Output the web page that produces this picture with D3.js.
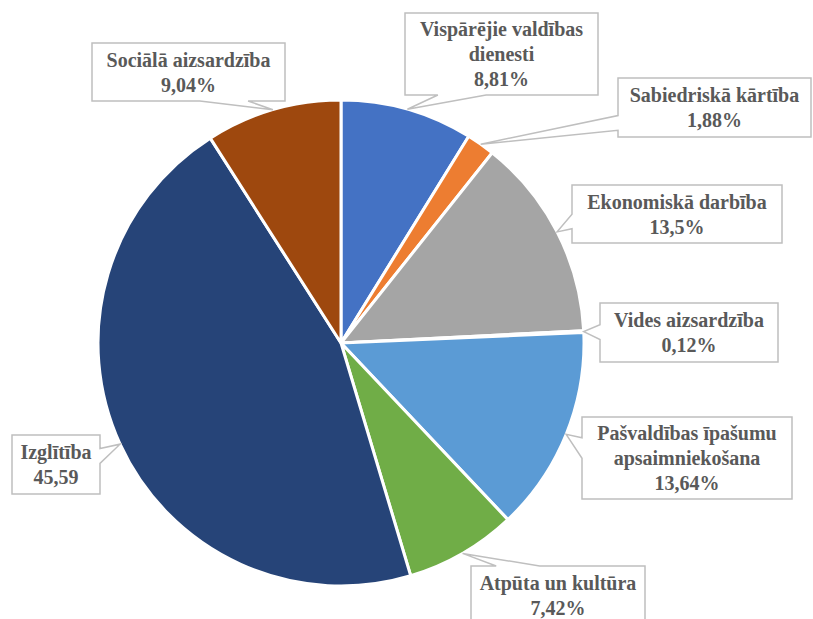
<!DOCTYPE html>
<html>
<head>
<meta charset="utf-8">
<script src="https://cdn.jsdelivr.net/npm/d3@7"></script>
<style>
  body { margin: 0; background: #fff; }
</style>
</head>
<body>
<div id="chart"></div>
<script>
// Data
var categories = [
  ["Vispārējie valdības", "dienesti"],
  ["Sabiedriskā kārtība"],
  ["Ekonomiskā darbība"],
  ["Vides aizsardzība"],
  ["Pašvaldības īpašumu", "apsaimniekošana"],
  ["Atpūta un kultūra"],
  ["Izglītība"],
  ["Sociālā aizsardzība"]
];
var values = [8.81, 1.88, 13.5, 0.12, 13.64, 7.42, 45.59, 9.04];
var valueLabels = ["8,81%", "1,88%", "13,5%", "0,12%", "13,64%", "7,42%", "45,59", "9,04%"];

// Styles / layout
var colors = ["#4472C4", "#ED7D31", "#A5A5A5", "#FFC000", "#5B9BD5", "#70AD47", "#264478", "#9E480E"];
var boxes = [
  {x: 405, y: 13, w: 193, h: 82},
  {x: 618, y: 78, w: 193, h: 59},
  {x: 572, y: 185, w: 210, h: 58},
  {x: 600, y: 303, w: 178, h: 59},
  {x: 582, y: 417, w: 210, h: 82},
  {x: 471, y: 566, w: 174, h: 59},
  {x: 12, y: 435, w: 88, h: 59},
  {x: 92, y: 43, w: 193, h: 58}
];

var width = 813, height = 619;
var cx = 341, cy = 343, radius = 243;

var svg = d3.select("#chart")
  .append("svg")
  .attr("width", width)
  .attr("height", height);

var pie = d3.pie().sort(null).value(function(d) { return d; });
var arcs = pie(values);

var arc = d3.arc().innerRadius(0).outerRadius(radius);

// Draw slices
svg.append("g")
  .attr("transform", `translate(${cx}, ${cy})`)
  .selectAll("path")
  .data(arcs)
  .enter().append("path")
  .attr("d", arc)
  .attr("fill", function(d, i) { return colors[i]; })
  .attr("stroke", "#fff")
  .attr("stroke-width", 3)
  .attr("stroke-linejoin", "round");

// Callout shape: box with a wedge pointing to the slice
function calloutPath(b, tip) {
  var left = b.x, right = b.x + b.w, top = b.y, bottom = b.y + b.h;
  var dx = tip.x < left ? left - tip.x : (tip.x > right ? tip.x - right : 0);
  var dy = tip.y < top ? top - tip.y : (tip.y > bottom ? tip.y - bottom : 0);
  var side = dx > dy ? (tip.x < left ? "left" : "right") : (tip.y < top ? "top" : "bottom");

  function base(a0, a1, t) {
    var c = (a0 + a1) / 2;
    var half = (a1 - a0) * 0.125;
    var m = c + 0.42 * (t - c);
    m = Math.max(a0 + half + 2, Math.min(a1 - half - 2, m));
    return [m - half, m + half];
  }

  var p = d3.path();
  p.moveTo(left, top);
  if (side === "top") {
    var bt = base(left, right, tip.x);
    p.lineTo(bt[0], top); p.lineTo(tip.x, tip.y); p.lineTo(bt[1], top);
  }
  p.lineTo(right, top);
  if (side === "right") {
    var br = base(top, bottom, tip.y);
    p.lineTo(right, br[0]); p.lineTo(tip.x, tip.y); p.lineTo(right, br[1]);
  }
  p.lineTo(right, bottom);
  if (side === "bottom") {
    var bb = base(left, right, tip.x);
    p.lineTo(bb[1], bottom); p.lineTo(tip.x, tip.y); p.lineTo(bb[0], bottom);
  }
  p.lineTo(left, bottom);
  if (side === "left") {
    var bl = base(top, bottom, tip.y);
    p.lineTo(left, bl[1]); p.lineTo(tip.x, tip.y); p.lineTo(left, bl[0]);
  }
  p.closePath();
  return p.toString();
}

// Draw callouts
var lineH = 25;
var callouts = svg.selectAll(".callout")
  .data(arcs)
  .enter().append("g")
  .attr("class", "callout");

callouts.append("path")
  .attr("d", function(d, i) {
    var a = (d.startAngle + d.endAngle) / 2;
    var tip = {x: cx + radius * Math.sin(a), y: cy - radius * Math.cos(a)};
    return calloutPath(boxes[i], tip);
  })
  .attr("fill", "#fff")
  .attr("stroke", "#BFBFBF")
  .attr("stroke-width", 1.5);

callouts.each(function(d, i) {
  var b = boxes[i];
  var lines = categories[i].concat([valueLabels[i]]);
  var first = b.y + b.h / 2 - (lines.length - 1) * lineH / 2 + 7;
  var t = d3.select(this).append("text")
    .attr("text-anchor", "middle")
    .attr("font-family", "Liberation Serif, Tinos, Times New Roman, Times, Noto Serif, DejaVu Serif, FreeSerif, serif")
    .attr("font-weight", "bold")
    .attr("font-size", 20)
    .attr("fill", "#595959");
  lines.forEach(function(l, k) {
    t.append("tspan")
      .attr("x", b.x + b.w / 2)
      .attr("y", first + k * lineH)
      .text(l);
  });
});
</script>
</body>
</html>
